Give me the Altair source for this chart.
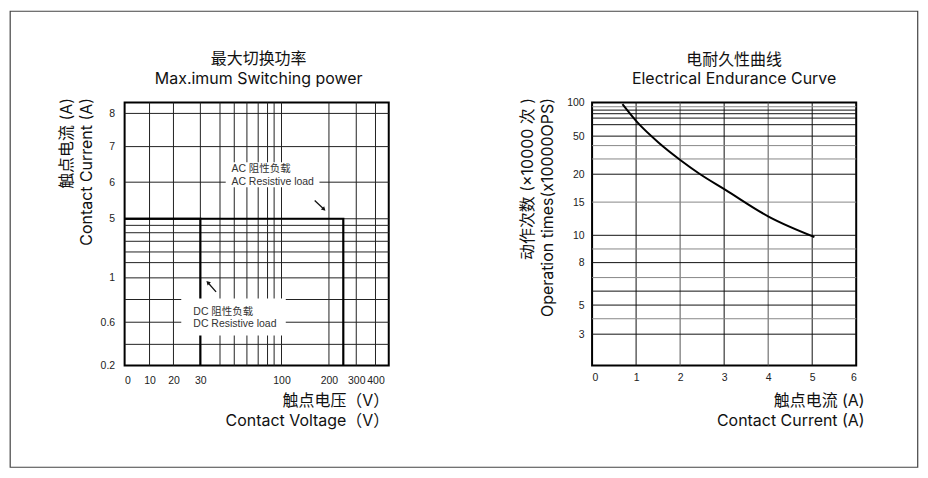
import altair as alt
import pandas as pd

# ---------------- data: left chart (maximum switching power) ----------------
volt_grid = [10, 20, 30, 40, 50, 60, 70, 80, 90, 100, 200, 300, 400]
amp_grid = [0.4, 0.6, 0.8, 1, 1.5, 2, 3, 3.5, 4, 5, 6, 7, 8]
volt_labels = [0, 10, 20, 30, 100, 200, 300, 400]
amp_labels = [0.2, 0.6, 1, 5, 6, 7, 8]

dc_volt = [0, 30, 30]
dc_amp = [5, 5, 0.2]
ac_volt = [0, 250, 250]
ac_amp = [5, 5, 0.2]

ac_note = ["AC 阻性负载", "AC Resistive load"]
ac_note_volt = [48, 48]
ac_note_amp = [6.38, 6.01]
ac_box_volt = [44, 180]
ac_box_amp = [5.86, 6.56]
ac_arrow_volt = [170, 189.5]
ac_arrow_amp = [5.5, 5.26]

dc_note = ["DC 阻性负载", "DC Resistive load"]
dc_note_volt = [27.4, 27.4]
dc_note_amp = [0.69, 0.584]
dc_box_volt = [22.9, 109]
dc_box_amp = [0.48, 0.81]
dc_arrow_volt = [38, 33.8]
dc_arrow_amp = [0.871, 0.957]

# ---------------- data: right chart (electrical endurance) ----------------
cur_grid = [1, 2, 3, 4, 5]
ops_grid = [3, 4, 5, 6, 7, 8, 9, 10, 15, 20, 30, 40, 50, 55, 60, 70, 80, 90]
cur_labels = [0, 1, 2, 3, 4, 5, 6]
ops_labels = [3, 5, 8, 10, 15, 20, 50, 100]
curve_cur = [0.69, 1.03, 1.52, 2.01, 2.43, 3.03, 4.03, 5.05]
curve_ops = [96, 56.7, 42.8, 29.2, 20.5, 17.2, 12.75, 9.88]

# ---------------- scales (hand-drawn, piecewise axes) ----------------
W, H = 265, 264
volt_scale = alt.Scale(
    domain=[0, 10, 20, 30, 40, 50, 60, 70, 80, 90, 100, 200, 250, 300, 400, 480],
    range=[0, 25, 49, 76, 95.7, 110, 122.7, 134, 143.4, 150, 157.4, 205, 219.4, 232.4, 251.7, W],
    nice=False, zero=False)
amp_scale = alt.Scale(
    domain=[0.2, 0.4, 0.6, 0.8, 1, 1.5, 2, 3, 3.5, 4, 5, 6, 7, 8, 8.3],
    range=[H, 242.7, 220.5, 197.7, 176, 160.7, 150, 139.3, 130.7, 123.3, 116.7, 80, 44.3, 11, 0],
    nice=False, zero=False)
cur_scale = alt.Scale(domain=[0, 6], range=[0, W], nice=False, zero=False)
ops_scale = alt.Scale(
    domain=[2, 3, 4, 5, 6, 7, 8, 9, 10, 15, 20, 30, 40, 50, 55, 60, 70, 80, 90, 100],
    range=[H, 232.5, 217, 203.3, 189.3, 175.7, 160.7, 147, 133.3, 100, 72, 56.7, 43.3,
           33.8, 22.3, 15.7, 11.3, 7.7, 4.3, 0],
    nice=False, zero=False)

TITLE_FONT = "Inter, Noto Sans CJK SC"
LABEL_FONT = "Liberation Sans, Noto Sans CJK SC"

common_axis = dict(grid=False, ticks=False, domain=False, labelExpr="'' + datum.value",
                   labelFont=LABEL_FONT, labelFontSize=10.5, labelColor="#222",
                   labelOverlap=False, titleFont=TITLE_FONT, titleFontSize=16,
                   titleFontWeight="normal", titleColor="#111", titleLineHeight=20,
                   titleBaseline="top", titleAlign="right")

x_axis_left = alt.Axis(values=volt_labels, title=["触点电压（V）", "Contact Voltage（V）"],
                       labelPadding=10, titleX=265, titleY=27, titleAngle=0, **common_axis)
y_axis_left = alt.Axis(values=amp_labels, title=["触点电流 (A)", "Contact Current (A)"],
                       labelPadding=10, titleX=-66, titleY=-5, titleAngle=270, **common_axis)
x_axis_right = alt.Axis(values=cur_labels, title=["触点电流 (A)", "Contact Current (A)"],
                        labelPadding=7, titleX=273, titleY=27, titleAngle=0, **common_axis)
y_axis_right = alt.Axis(values=ops_labels, title=["动作次数 (×10000 次 )", "Operation times(x10000OPS)"],
                        labelPadding=8, titleX=-73, titleY=-5, titleAngle=270, **common_axis)


def X(field, scale, axis):
    return alt.X(field, type="quantitative", scale=scale, axis=axis)


def Y(field, scale, axis):
    return alt.Y(field, type="quantitative", scale=scale, axis=axis)


# ---------------- left chart ----------------
vgrid_l = alt.Chart(pd.DataFrame({"v": volt_grid})).mark_rule(color="#222", strokeWidth=1).encode(
    x=X("v", volt_scale, x_axis_left))
hgrid_l = alt.Chart(pd.DataFrame({"a": amp_grid})).mark_rule(color="#222", strokeWidth=1).encode(
    y=Y("a", amp_scale, y_axis_left))

bounds_df = pd.DataFrame({
    "load": ["DC"] * len(dc_volt) + ["AC"] * len(ac_volt),
    "order": list(range(len(dc_volt))) + list(range(len(ac_volt))),
    "v": dc_volt + ac_volt,
    "a": dc_amp + ac_amp,
})
bounds_l = alt.Chart(bounds_df).mark_line(color="#000", strokeWidth=2.2).encode(
    x=X("v", volt_scale, x_axis_left), y=Y("a", amp_scale, y_axis_left),
    detail="load:N", order="order:Q")

box_df = pd.DataFrame({
    "v": [ac_box_volt[0], dc_box_volt[0]], "v2": [ac_box_volt[1], dc_box_volt[1]],
    "a": [ac_box_amp[0], dc_box_amp[0]], "a2": [ac_box_amp[1], dc_box_amp[1]],
})
boxes_l = alt.Chart(box_df).mark_rect(color="white").encode(
    x=X("v", volt_scale, x_axis_left), x2="v2", y=Y("a", amp_scale, y_axis_left), y2="a2")

note_df = pd.DataFrame({"t": ac_note + dc_note, "v": ac_note_volt + dc_note_volt,
                        "a": ac_note_amp + dc_note_amp})
notes_l = alt.Chart(note_df).mark_text(align="left", baseline="middle", font=LABEL_FONT,
                                       fontSize=10.5, color="#333").encode(
    x=X("v", volt_scale, x_axis_left), y=Y("a", amp_scale, y_axis_left), text="t:N")

arrow_df = pd.DataFrame({"v": [ac_arrow_volt[0], dc_arrow_volt[0]],
                         "v2": [ac_arrow_volt[1], dc_arrow_volt[1]],
                         "a": [ac_arrow_amp[0], dc_arrow_amp[0]],
                         "a2": [ac_arrow_amp[1], dc_arrow_amp[1]]})
shafts_l = alt.Chart(arrow_df).mark_rule(color="#111", strokeWidth=1.3).encode(
    x=X("v", volt_scale, x_axis_left), x2="v2", y=Y("a", amp_scale, y_axis_left), y2="a2")
head_ac = alt.Chart(pd.DataFrame({"v": [ac_arrow_volt[1]], "a": [ac_arrow_amp[1]]})).mark_point(
    shape="triangle-up", filled=True, size=22, angle=135, color="#111", opacity=1).encode(
    x=X("v", volt_scale, x_axis_left), y=Y("a", amp_scale, y_axis_left))
head_dc = alt.Chart(pd.DataFrame({"v": [dc_arrow_volt[1]], "a": [dc_arrow_amp[1]]})).mark_point(
    shape="triangle-up", filled=True, size=22, angle=315, color="#111", opacity=1).encode(
    x=X("v", volt_scale, x_axis_left), y=Y("a", amp_scale, y_axis_left))

# outer page frame, drawn around both panels
FRAME_TOP = -91.5
frame = alt.Chart(pd.DataFrame({"k": [0]})).mark_rect(
    fillOpacity=0, stroke="#444", strokeWidth=1.2).encode(
    x=alt.value(-114.8), x2=alt.value(-114.8 + 910.5),
    y=alt.value(FRAME_TOP), y2=alt.value(366))

left = alt.layer(vgrid_l, hgrid_l, bounds_l, boxes_l, notes_l, shafts_l, head_ac, head_dc, frame).properties(
    width=W, height=H,
    title=alt.TitleParams(["最大切换功率", "Max.imum Switching power"], anchor="middle",
                          dx=2, offset=10, dy=-FRAME_TOP - 4.6))

# ---------------- right chart ----------------
gray_cur = alt.FieldOneOfPredicate(field="c", oneOf=[2, 4])
vgrid_r = alt.Chart(pd.DataFrame({"c": cur_grid})).mark_rule(strokeWidth=1).encode(
    x=X("c", cur_scale, x_axis_right),
    color=alt.condition(gray_cur, alt.value("#555"), alt.value("#111")))
gray_ops = alt.FieldOneOfPredicate(field="o", oneOf=[90, 40, 30, 15, 9, 7, 4])
hgrid_r = alt.Chart(pd.DataFrame({"o": ops_grid})).mark_rule(strokeWidth=1).encode(
    y=Y("o", ops_scale, y_axis_right),
    color=alt.condition(gray_ops, alt.value("#888"), alt.value("#111")))
curve_r = alt.Chart(pd.DataFrame({"c": curve_cur, "o": curve_ops})).mark_line(
    color="#000", strokeWidth=2, interpolate="monotone").encode(
    x=X("c", cur_scale, x_axis_right), y=Y("o", ops_scale, y_axis_right))

right = alt.layer(vgrid_r, hgrid_r, curve_r).properties(
    width=W, height=H,
    title=alt.TitleParams(["电耐久性曲线", "Electrical Endurance Curve"], anchor="middle", dx=10, offset=10))

chart = alt.hconcat(left, right, spacing=204, bounds="flush").properties(
    padding=0, background="white"
).configure_view(stroke="#000", strokeWidth=2).configure_title(
    font=TITLE_FONT, fontSize=16, fontWeight="normal", color="#111", lineHeight=20
)

chart.save("out.html", embed_options={"renderer": "svg", "actions": False})
